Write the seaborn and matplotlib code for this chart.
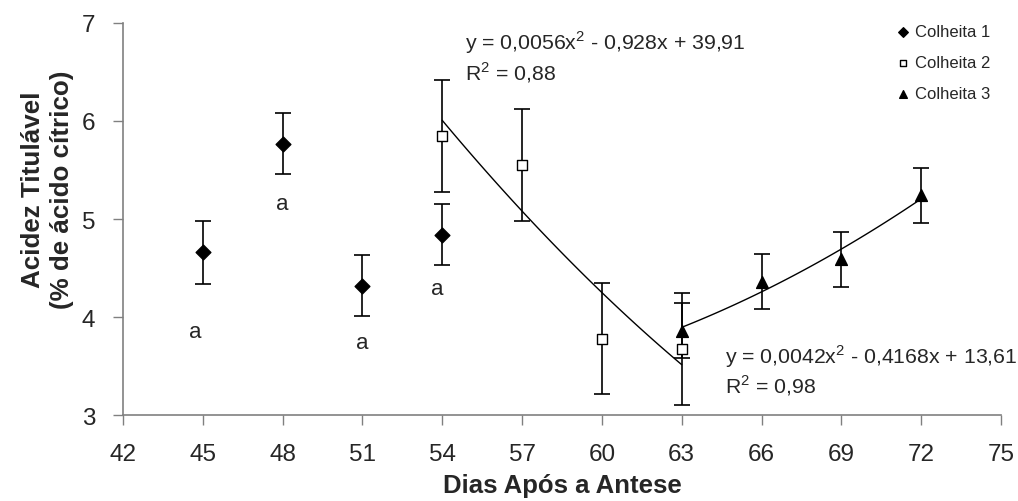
import numpy as np
import pandas as pd
import matplotlib
matplotlib.use('Agg')
import matplotlib.pyplot as plt
import seaborn as sns

################################################################################
# data

dias_c1 = [45, 48, 51, 54]
acidez_c1 = [4.66, 5.77, 4.32, 4.84]
erro_c1 = [0.32, 0.31, 0.31, 0.31]

dias_c2 = [54, 57, 60, 63]
acidez_c2 = [5.85, 5.55, 3.78, 3.67]
erro_c2 = [0.57, 0.57, 0.57, 0.57]

dias_c3 = [63, 66, 69, 72]
acidez_c3 = [3.86, 4.36, 4.59, 5.24]
erro_c3 = [0.28, 0.28, 0.28, 0.28]

letras_x = [44.7, 48.0, 51.0, 53.8]
letras_y = [3.85, 5.16, 3.74, 4.29]

eq_c2 = 'y = 0,0056x$^{2}$ - 0,928x + 39,91\nR$^{2}$ = 0,88'
eq_c3 = 'y = 0,0042x$^{2}$ - 0,4168x + 13,61\nR$^{2}$ = 0,98'

x_ticks = list(range(42, 76, 3))
y_ticks = [3, 4, 5, 6, 7]

################################################################################

sns.set_theme(style = 'ticks')
plt.rcParams['font.family'] = ['Liberation Sans', 'DejaVu Sans']
plt.rcParams['mathtext.fontset'] = 'custom'
plt.rcParams['mathtext.rm'] = 'Liberation Sans'

fig = plt.figure(figsize = (10.18, 5.02), dpi = 100)
ax = fig.add_axes([0.1208, 0.1713, 0.8625, 0.7809])

series = [
    (dias_c1, acidez_c1, erro_c1, 'D', 'black', 'Colheita 1', 7.5),
    (dias_c2, acidez_c2, erro_c2, 's', 'white', 'Colheita 2', 7),
    (dias_c3, acidez_c3, erro_c3, '^', 'black', 'Colheita 3', 8.5),
]

# error bars first, markers on top
for dias, acidez, erro, marker, face, label, size in series:
    ax.errorbar(dias, acidez, yerr = erro, fmt = 'none', ecolor = 'black',
                elinewidth = 1.2, capsize = 6, capthick = 1.2, zorder = 2)

# fitted quadratic curves
sns.regplot(x = dias_c2, y = acidez_c2, order = 2, ci = None, scatter = False,
            color = 'black', line_kws = dict(lw = 1.0), ax = ax, truncate = True)
sns.regplot(x = dias_c3, y = acidez_c3, order = 2, ci = None, scatter = False,
            color = 'black', line_kws = dict(lw = 1.0), ax = ax, truncate = True)

for dias, acidez, erro, marker, face, label, size in series:
    df = pd.DataFrame({'dias': dias, 'acidez': acidez})
    sns.scatterplot(data = df, x = 'dias', y = 'acidez', marker = marker,
                    color = face, edgecolor = 'black', linewidth = 1.0,
                    s = size ** 2, label = label, ax = ax, zorder = 4)

for lx, ly in zip(letras_x, letras_y):
    ax.text(lx, ly, 'a', fontsize = 16, ha = 'center', va = 'center')

ax.text(54.85, 6.66, eq_c2, fontsize = 15.3, ha = 'left', va = 'center', linespacing = 1.2)
ax.text(64.63, 3.46, eq_c3, fontsize = 15.3, ha = 'left', va = 'center', linespacing = 1.15)

ax.set_xlim(42, 75)
ax.set_ylim(3, 7)
ax.set_xticks(x_ticks)
ax.set_yticks(y_ticks)
ax.tick_params(axis = 'both', labelsize = 17.5, direction = 'out', length = 7,
               width = 1, color = '#808080')
ax.tick_params(axis = 'y', pad = 13)
ax.tick_params(axis = 'x', pad = 13)

for side in ['left', 'bottom']:
    ax.spines[side].set_color('#808080')
    ax.spines[side].set_linewidth(1.2)
sns.despine(ax = ax)

ax.set_xlabel('Dias Após a Antese', fontsize = 18.5, fontweight = 'bold')
ax.xaxis.set_label_coords(0.5, -0.147)
ax.set_ylabel('Acidez Titulável\n(% de ácido cítrico)', fontsize = 18.7,
              fontweight = 'bold', linespacing = 1.25)
ax.yaxis.set_label_coords(-0.056, 0.577)

leg = ax.legend(loc = 'upper right', bbox_to_anchor = (1.005, 1.035), frameon = False,
                fontsize = 12, handletextpad = 0.2, labelspacing = 0.95,
                markerscale = 0.65, handlelength = 1.0)

fig.savefig('out.png', dpi = 100)
